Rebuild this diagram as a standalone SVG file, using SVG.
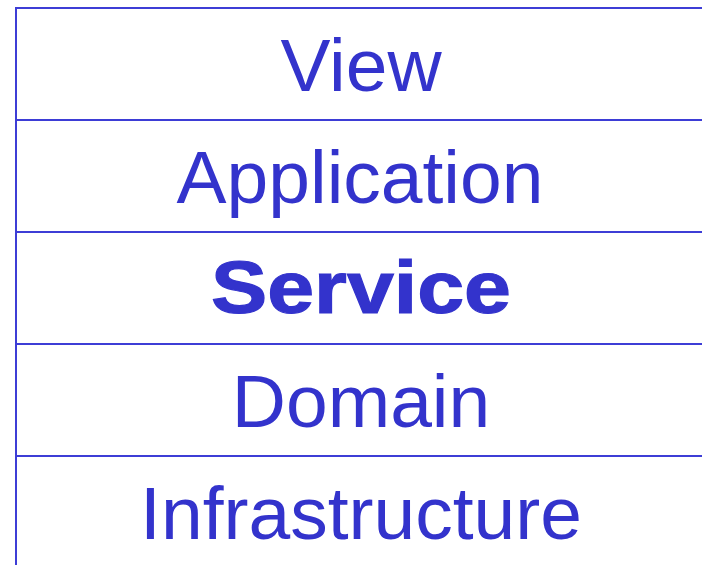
<svg xmlns="http://www.w3.org/2000/svg" width="702" height="565" viewBox="0 0 702 565">
<style>
.ln{stroke:#3d3dd6;stroke-width:2;fill:none}
.t{font-family:"Liberation Sans",Arial,sans-serif;font-size:75px;fill:#3333cc;text-anchor:middle}
.b{font-weight:bold;stroke:#3333cc;stroke-width:1.2}
</style>
<rect width="702" height="565" fill="#ffffff"/>
<g id="connectors">
<path class="ln" d="M16,566 V8 H703"/>
<path class="ln" d="M16,120 H703 M16,232 H703 M16,344 H703 M16,456 H703"/>
</g>
<g id="view"><text class="t" x="361" y="91">View</text></g>
<g id="application"><text class="t" x="360" y="203">Application</text></g>
<g id="service"><text class="t b" x="361" y="313" textLength="300" lengthAdjust="spacingAndGlyphs">Service</text></g>
<g id="domain"><text class="t" x="361" y="427">Domain</text></g>
<g id="infrastructure"><text class="t" x="361" y="539">Infrastructure</text></g>
</svg>
